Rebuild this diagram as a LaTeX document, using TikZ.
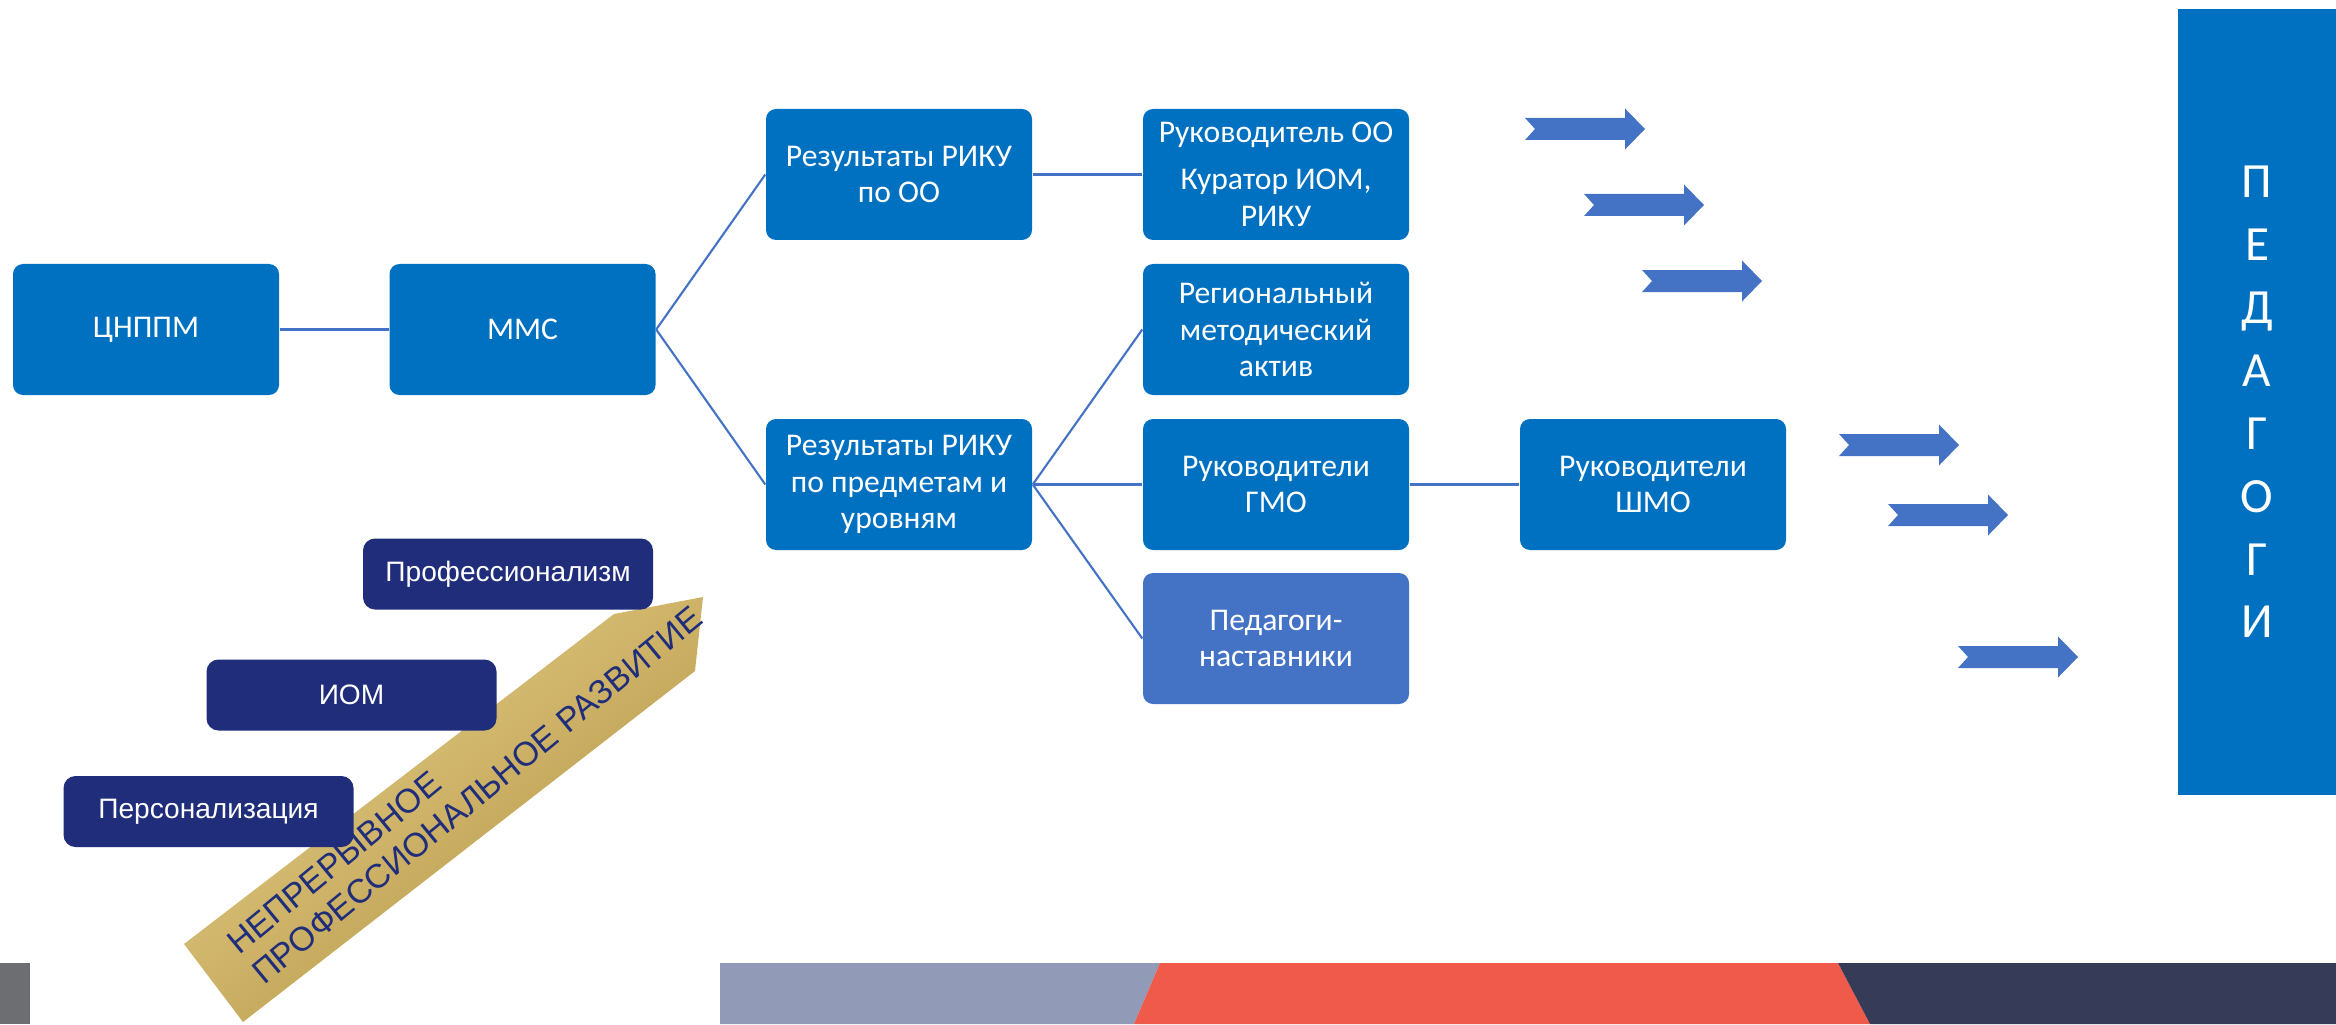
\documentclass[tikz,border=0pt]{standalone}
\usepackage{fontspec}
\setmainfont{Carlito}
\newfontfamily\arialfont{Liberation Sans}
\usetikzlibrary{calc}

\definecolor{boxblue}{RGB}{0,112,192}
\definecolor{lineblue}{RGB}{68,114,196}
\definecolor{navy}{RGB}{31,45,122}
\definecolor{goldlight}{RGB}{232,210,138}
\definecolor{golddark}{RGB}{176,144,66}
\definecolor{stripgray}{RGB}{109,110,113}
\definecolor{stripblue}{RGB}{145,155,184}
\definecolor{stripred}{RGB}{240,90,75}
\definecolor{stripdark}{RGB}{54,59,87}

\tikzset{
    box/.style={fill=boxblue, rounded corners=1mm, minimum width=2.66cm, minimum height=1.31cm, inner sep=0pt, text=white, align=center, font=\fontsize{9}{10.4}\selectfont},
    stepbox/.style={fill=navy, rounded corners=1.2mm, minimum width=2.9cm, minimum height=0.71cm, inner sep=0pt, text=white, font=\arialfont\fontsize{8}{9.6}\selectfont},
    link/.style={lineblue, line width=0.6pt},
}

\begin{document}
\begin{tikzpicture}
        \useasboundingbox (0,0) rectangle (23.36,10.24);

        %% bande du bas
        \fill [stripgray] (0,0) rectangle (0.30,0.61);
        \fill [stripblue] (7.20,0) -- (7.20,0.61) -- (11.60,0.61) -- (11.34,0) -- cycle;
        \fill [stripred] (11.34,0) -- (11.60,0.61) -- (18.38,0.61) -- (18.70,0) -- cycle;
        \fill [stripdark] (18.70,0) -- (18.38,0.61) -- (23.36,0.61) -- (23.36,0) -- cycle;

        %% fleche doree
        \shade [top color=goldlight, bottom color=golddark, shading angle=37.7]
            (1.84,0.80) -- (6.14,4.10) -- (7.03,4.27) -- (6.95,3.53) -- (2.43,0.02) -- cycle;
        \node [rotate=39.5, anchor=west, align=left, text=navy, inner sep=0pt,
            font=\arialfont\fontsize{9.6}{11}\selectfont] (npr) at (2.44,0.62)
            {НЕПРЕРЫВНОЕ\\ПРОФЕССИОНАЛЬНОЕ РАЗВИТИЕ};

        %% etapes
        \node [stepbox] (pers) at (2.085,2.125) {Персонализация};
        \node [stepbox] (iom) at (3.515,3.29) {ИОМ};
        \node [stepbox] (prof) at (5.08,4.50) {Профессионализм};

        %% schema
        \node [box] (cnppm) at (1.46,6.945) {ЦНППМ};
        \node [box] (mms) at (5.225,6.945) {ММС};
        \node [box] (rikuoo) at (8.99,8.495) {Результаты РИКУ\\по ОО};
        \node [box] (rikupr) at (8.99,5.395) {Результаты РИКУ\\по предметам и\\уровням};
        \node [box] (rukoo) at (12.76,8.495) {Руководитель ОО\\[3pt]Куратор ИОМ,\\РИКУ};
        \node [box] (rma) at (12.76,6.945) {Региональный\\методический\\актив};
        \node [box] (gmo) at (12.76,5.395) {Руководители\\ГМО};
        \node [box, fill=lineblue] (nast) at (12.76,3.855) {Педагоги-\\наставники};
        \node [box] (shmo) at (16.53,5.395) {Руководители\\ШМО};

        \draw [link] (cnppm) -- (mms);
        \draw [link] (mms.east) -- (rikuoo.west);
        \draw [link] (mms.east) -- (rikupr.west);
        \draw [link] (rikuoo) -- (rukoo);
        \draw [link] (rikupr.east) -- (rma.west);
        \draw [link] (rikupr) -- (gmo);
        \draw [link] (rikupr.east) -- (nast.west);
        \draw [link] (gmo) -- (shmo);

        %% fleches vers les pedagogues
        \foreach \x/\y in {15.25/8.95, 15.84/8.19, 16.42/7.43, 18.39/5.79, 18.88/5.09, 19.58/3.67}
            \fill [lineblue, shift={(\x,\y)}] (0,0.11) -- (1.0,0.11) -- (1.0,0.205) -- (1.2,0)
                -- (1.0,-0.205) -- (1.0,-0.11) -- (0,-0.11) -- (0.1,0) -- cycle;

        %% pedagogues
        \node [fill=boxblue, minimum width=1.58cm, minimum height=7.86cm, inner sep=0pt,
            text=white, align=center, font=\fontsize{14}{17.9}\selectfont] (ped) at (22.57,6.22)
            {П\\Е\\Д\\А\\Г\\О\\Г\\И};

    \end{tikzpicture}
\end{document}
